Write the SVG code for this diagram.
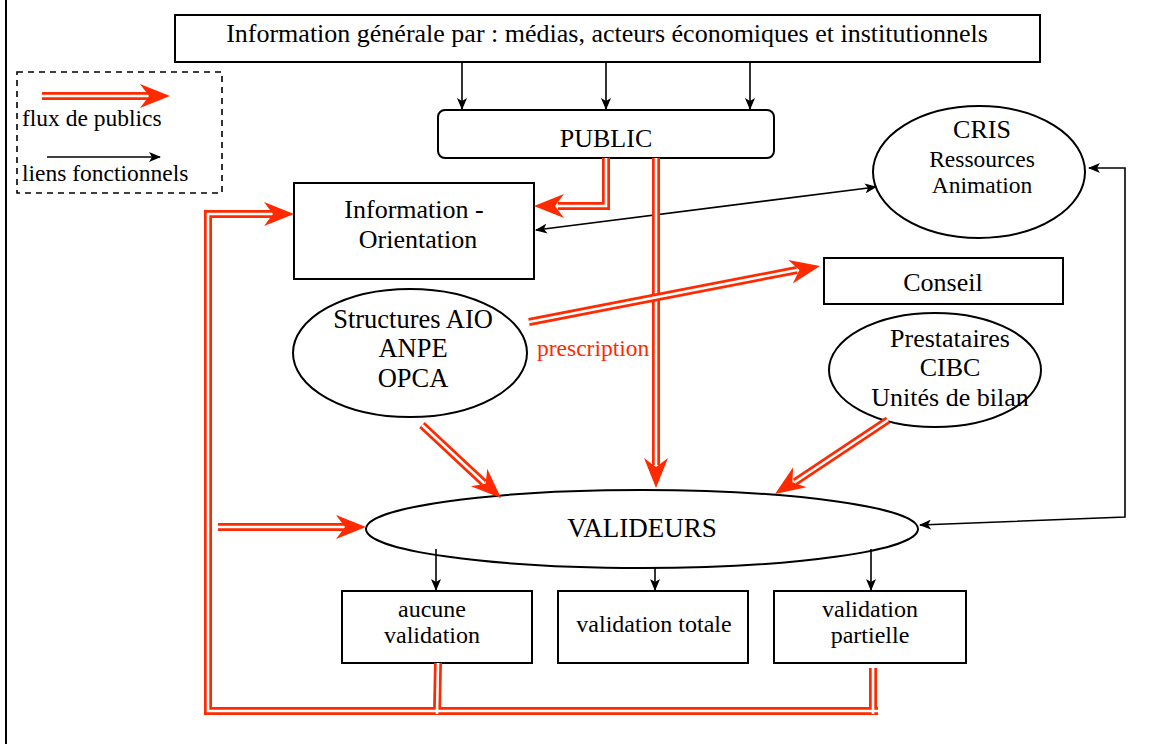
<svg xmlns="http://www.w3.org/2000/svg" width="1151" height="744" viewBox="0 0 1151 744">
<style>
  .box{fill:#fff;stroke:#000;stroke-width:2}
  .t{font-family:"Liberation Serif","Times New Roman",serif;fill:#000;text-anchor:middle}
  .rr{fill:none;stroke:#ff2a00;stroke-width:8}
  .rw{fill:none;stroke:#fff;stroke-width:2.6}
  .rh{fill:#ff2a00}
  .bl{fill:none;stroke:#000;stroke-width:1.6}
</style>
<defs>
  <path id="rh" d="M0,0 L-30,-12 L-21,0 L-30,12 Z"/>
  <marker id="ba" viewBox="0 0 12 10" refX="11" refY="5" markerWidth="12" markerHeight="10" markerUnits="userSpaceOnUse" orient="auto-start-reverse">
    <path d="M0,0 L12,5 L0,10 L3,5 Z" fill="#000"/>
  </marker>
</defs>
<rect width="1151" height="744" fill="#fff"/>
<line x1="6" y1="0" x2="6" y2="744" stroke="#000" stroke-width="2"/>

<g id="legend">
  <rect x="17" y="72" width="205" height="121" fill="none" stroke="#000" stroke-width="1.6" stroke-dasharray="6,5"/>
  <line class="rr" x1="42" y1="96" x2="150" y2="96"/>
  <line class="rw" x1="42" y1="96" x2="150" y2="96"/>
  <use href="#rh" class="rh" transform="translate(170,96)"/>
  <text class="t" x="22" y="126" font-size="23.5" style="text-anchor:start">flux de publics</text>
  <line class="bl" x1="47" y1="157" x2="160" y2="157" marker-end="url(#ba)"/>
  <text class="t" x="22" y="181" font-size="23.5" style="text-anchor:start">liens fonctionnels</text>
</g>

<g id="info-generale">
  <rect class="box" x="175" y="15" width="865" height="47"/>
  <text class="t" x="607" y="42" font-size="26">Information générale par : médias, acteurs économiques et institutionnels</text>
</g>
<g id="public">
  <rect class="box" x="438" y="110" width="336" height="48" rx="7"/>
  <text class="t" x="606" y="147" font-size="26">PUBLIC</text>
</g>
<g id="cris">
  <ellipse class="box" cx="979" cy="172" rx="106" ry="66"/>
  <text class="t" x="982" y="138" font-size="26">CRIS</text>
  <text class="t" x="982" y="167" font-size="23.5">Ressources</text>
  <text class="t" x="982" y="193" font-size="23.5">Animation</text>
</g>
<g id="info-orientation">
  <rect class="box" x="294" y="183" width="240" height="96"/>
  <text class="t" x="414" y="218" font-size="26">Information -</text>
  <text class="t" x="418" y="248" font-size="26">Orientation</text>
</g>
<g id="conseil">
  <rect class="box" x="824" y="258" width="239" height="46"/>
  <text class="t" x="943" y="291" font-size="26">Conseil</text>
</g>
<g id="structures">
  <ellipse class="box" cx="410" cy="353" rx="117" ry="64"/>
  <text class="t" x="413" y="328" font-size="26.5">Structures AIO</text>
  <text class="t" x="413" y="357" font-size="26.5">ANPE</text>
  <text class="t" x="413" y="387" font-size="26.5">OPCA</text>
</g>
<g id="prestataires">
  <ellipse class="box" cx="935" cy="370" rx="106" ry="57"/>
  <text class="t" x="950" y="347" font-size="26">Prestataires</text>
  <text class="t" x="950" y="376" font-size="26">CIBC</text>
  <text class="t" x="950" y="406" font-size="26">Unités de bilan</text>
</g>
<g id="valideurs">
  <ellipse class="box" cx="642" cy="529" rx="276" ry="39"/>
  <text class="t" x="642" y="537" font-size="27">VALIDEURS</text>
</g>
<g id="aucune">
  <rect class="box" x="342" y="591" width="190" height="72"/>
  <text class="t" x="432" y="617" font-size="24">aucune</text>
  <text class="t" x="432" y="643" font-size="24">validation</text>
</g>
<g id="totale">
  <rect class="box" x="558" y="591" width="190" height="72"/>
  <text class="t" x="654" y="632" font-size="24">validation totale</text>
</g>
<g id="partielle">
  <rect class="box" x="774" y="591" width="192" height="72"/>
  <text class="t" x="870" y="617" font-size="24">validation</text>
  <text class="t" x="870" y="643" font-size="24">partielle</text>
</g>

<g id="connectors">
  <!-- black functional links -->
  <line class="bl" x1="462" y1="62" x2="462" y2="109" marker-end="url(#ba)"/>
  <line class="bl" x1="606" y1="62" x2="606" y2="109" marker-end="url(#ba)"/>
  <line class="bl" x1="750" y1="62" x2="750" y2="109" marker-end="url(#ba)"/>
  <line class="bl" x1="536" y1="230" x2="876" y2="187" marker-start="url(#ba)" marker-end="url(#ba)"/>
  <polyline class="bl" points="920,525 1125,517 1125,168 1089,168" marker-start="url(#ba)" marker-end="url(#ba)"/>
  <line class="bl" x1="436" y1="549" x2="436" y2="590" marker-end="url(#ba)"/>
  <line class="bl" x1="655" y1="568" x2="655" y2="590" marker-end="url(#ba)"/>
  <line class="bl" x1="871" y1="549" x2="871" y2="590" marker-end="url(#ba)"/>

  <!-- red public flows -->
  <polyline class="rr" points="606,158 606,206 558,206"/>
  <polyline class="rw" points="606,158 606,206 558,206"/>
  <use href="#rh" class="rh" transform="translate(534,206) rotate(180)"/>

  <line class="rr" x1="656" y1="158" x2="656" y2="465"/>
  <line class="rw" x1="656" y1="158" x2="656" y2="465"/>
  <use href="#rh" class="rh" transform="translate(656,488) rotate(90)"/>

  <line class="rr" x1="529" y1="322" x2="797" y2="270"/>
  <line class="rw" x1="529" y1="322" x2="797" y2="270"/>
  <use href="#rh" class="rh" transform="translate(820,266) rotate(-11)"/>

  <line class="rr" x1="422" y1="425" x2="484" y2="483"/>
  <line class="rw" x1="422" y1="425" x2="484" y2="483"/>
  <use href="#rh" class="rh" transform="translate(501,498) rotate(43)"/>

  <line class="rr" x1="888" y1="420" x2="795" y2="482"/>
  <line class="rw" x1="888" y1="420" x2="795" y2="482"/>
  <use href="#rh" class="rh" transform="translate(775,494) rotate(146)"/>

  <line class="rr" x1="218" y1="527" x2="345" y2="527"/>
  <line class="rw" x1="218" y1="527" x2="345" y2="527"/>
  <use href="#rh" class="rh" transform="translate(366,527) rotate(0)"/>

  <line class="rr" x1="438" y1="663" x2="437" y2="711"/>
  <line class="rr" x1="873" y1="668" x2="873" y2="711"/>
  <polyline class="rr" points="878,711 208,711 208,214 272,214"/>
  <polyline class="rw" points="878,711 208,711 208,214 272,214"/>
  <line class="rw" x1="438" y1="663" x2="437" y2="714"/>
  <line class="rw" x1="873" y1="668" x2="873" y2="714"/>
  <use href="#rh" class="rh" transform="translate(294,214)"/>

  <text x="537" y="356" font-size="23.5" font-family="Liberation Serif, Times New Roman, serif" fill="#ff2a00">prescription</text>
</g>
</svg>
